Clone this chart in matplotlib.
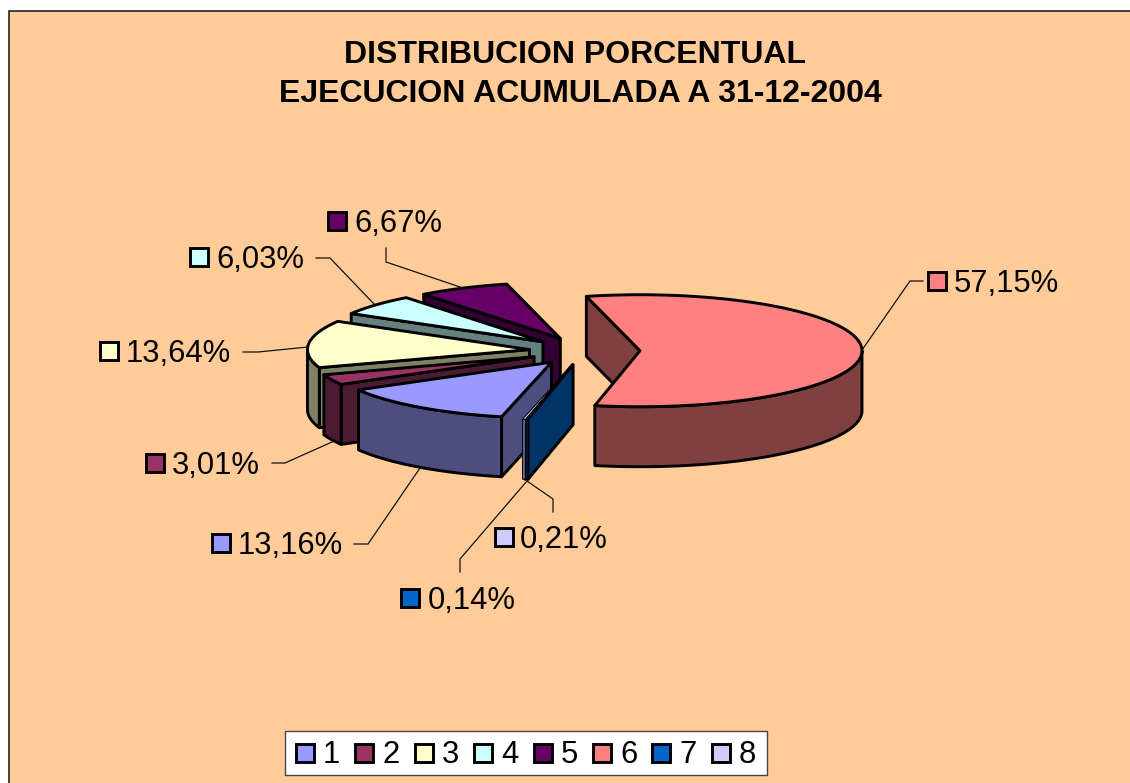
import numpy as np
import matplotlib
matplotlib.use('Agg')
import matplotlib.pyplot as plt
from matplotlib.patches import Polygon, Rectangle

plt.rcParams['font.family'] = ['Liberation Sans', 'DejaVu Sans']

# Datos del grafico
categorias = ['1', '2', '3', '4', '5', '6', '7', '8']
valores = [13.16, 3.01, 13.64, 6.03, 6.67, 57.15, 0.14, 0.21]
colores = ['#9999FF', '#993366', '#FFFFCC', '#CCFFFF', '#660066', '#FF8080', '#0066CC', '#CCCCFF']
colores_lado = ['#4D4D80', '#4D1A33', '#808066', '#668080', '#330033', '#804040', '#003366', '#666680']
titulo = ['DISTRIBUCION PORCENTUAL', 'EJECUCION ACUMULADA A 31-12-2004']

# Geometria de la torta (pixeles)
CX, CY = 584.6, 351.0
RX, RY = 222.0, 56.0
ALTO = 60.0
SEPARA = 55.4
INICIO = 193.0
LW = 2.1

# Posicion de cada etiqueta: cuadro x, texto x, y
pos_etiquetas = [(212, 238, 543), (146, 172, 463), (100, 126, 351), (190, 216, 257),
                 (328, 354, 221), (928, 954, 281), (401, 428, 598), (495, 520, 537)]
guias = [
    [(420, 468), (368, 544), (354, 544)],
    [(332, 442), (285, 463), (272, 463)],
    [(308, 347), (258, 352), (243, 352)],
    [(374, 304), (330, 258), (316, 258)],
    [(463, 288), (386, 262), (386, 248)],
    [(862, 350), (910, 281), (923, 281)],
    [(527, 481), (460, 559), (460, 572)],
    [(527, 481), (553, 499), (553, 512)],
]


def punto(cx, cy, ang):
    t = np.radians(ang)
    return cx + RX * np.sin(t), cy - RY * np.cos(t)


def arco(cx, cy, a, b):
    angs = np.linspace(a, b, 80)
    return np.column_stack(punto(cx, cy, angs))


def dibuja_porcion(ax, a, b, color, lado):
    mid = np.radians((a + b) / 2)
    cx = CX + SEPARA * np.sin(mid)
    cy = CY - SEPARA * RY / RX * np.cos(mid)
    estilo = dict(edgecolor='black', linewidth=LW, joinstyle='round')
    # Las porciones muy finas llevan menos trazo para que se vea el relleno
    fino = dict(edgecolor='black', linewidth=0.7, joinstyle='round')

    # Caras radiales visibles
    for ang, normal in ((b, b + 90), (a, a - 90)):
        if np.cos(np.radians(normal)) < 0:
            x, y = punto(cx, cy, ang)
            ax.add_patch(Polygon([(cx, cy), (x, y), (x, y + ALTO), (cx, cy + ALTO)],
                                 facecolor=lado, **estilo))

    # Borde exterior visible
    a2 = max(a, 90)
    b2 = min(b, 270)
    if b2 > a2:
        arr = arco(cx, cy, a2, b2)
        aba = arr[::-1] + [0, ALTO]
        ax.add_patch(Polygon(np.vstack([arr, aba]), facecolor=lado,
                             **(fino if b - a < 1 else estilo)))

    # Cara superior
    ax.add_patch(Polygon(np.vstack([[(cx, cy)], arco(cx, cy, a, b)]), facecolor=color,
                         **(fino if b - a < 1 else estilo)))


fig = plt.figure(figsize=(11.3, 7.83), dpi=100, facecolor='white')
ax = fig.add_axes([0, 0, 1, 1])
ax.set_xlim(0, 1130)
ax.set_ylim(783, 0)
ax.axis('off')

# Fondo del grafico
ax.add_patch(Rectangle((9, 11), 1130, 800, facecolor='#FFCC99', edgecolor='#222222', linewidth=1.2))

ax.text(575.5, 55, titulo[0], ha='center', va='center', fontsize=23.05, fontweight='bold', color='black')
ax.text(580.5, 94, titulo[1], ha='center', va='center', fontsize=23.05, fontweight='bold', color='black')

# Lineas guia
for g in guias:
    xs, ys = zip(*g)
    ax.plot(xs, ys, color='#111111', linewidth=0.9, solid_joinstyle='miter')

# Porciones, de atras hacia adelante
total = sum(valores)
sweeps = [v / total * 360 for v in valores]
porciones = []
ang = INICIO
for i, s in enumerate(sweeps):
    a = ang % 360
    if a > 270:
        a -= 360
    porciones.append((i, a, a + s))
    ang += s
porciones.sort(key=lambda p: -np.cos(np.radians((p[1] + p[2]) / 2)))
for i, a, b in porciones:
    dibuja_porcion(ax, a, b, colores[i], colores_lado[i])

# Etiquetas
for i, v in enumerate(valores):
    xc, xt, y = pos_etiquetas[i]
    ax.add_patch(Rectangle((xc, y - 9), 18, 18, facecolor=colores[i], edgecolor='black', linewidth=LW))
    txt = f'{v:.2f}%'.replace('.', ',')
    ax.text(xt, y + 3, txt, ha='left', va='center', fontsize=22.3, color='black')

# Leyenda
ax.add_patch(Rectangle((285, 731), 482, 44, facecolor='white', edgecolor='#444444', linewidth=1.0))
for i, c in enumerate(categorias):
    x0 = 296 + i * 59.4
    ax.add_patch(Rectangle((x0, 744), 18, 18, facecolor=colores[i], edgecolor='black', linewidth=LW))
    ax.text(x0 + 27, 755, c, ha='left', va='center', fontsize=22.3, color='black')

fig.savefig('out.png', dpi=100, facecolor='white')
